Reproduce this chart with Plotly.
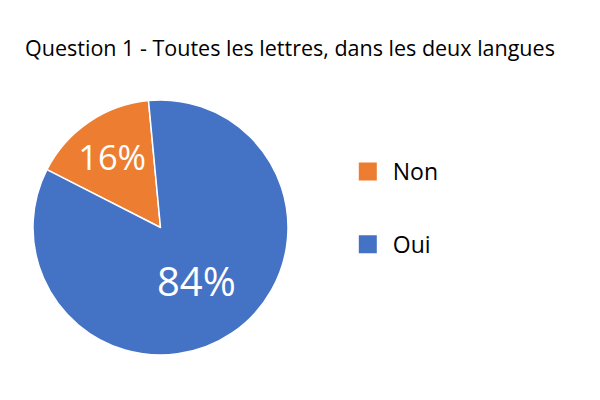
import plotly.graph_objects as go

labels = ["Non", "Oui"]
values = [16, 84]
colors = ["#ED7D31", "#4472C4"]

title_text = "Question 1 - Toutes les lettres, dans les deux langues"
font_family = "Open Sans"

fig = go.Figure()

# the pie itself, legend drawn separately so the entries can be spaced out
fig.add_trace(
    go.Pie(
        labels=labels,
        values=values,
        sort=False,
        direction="clockwise",
        rotation=-63,
        marker=dict(colors=colors, line=dict(color="white", width=1.5)),
        texttemplate="%{percent:.0%}",
        textposition="inside",
        insidetextorientation="horizontal",
        textfont=dict(color="white", size=40, family=font_family),
        domain=dict(x=[25 / 600, 280 / 600], y=[53 / 400, 308 / 400]),
        showlegend=False,
        hoverinfo="label+percent",
    )
)

# legend entries
for name, col in zip(labels, colors):
    fig.add_trace(
        go.Scatter(
            x=[None],
            y=[None],
            mode="markers",
            name=name,
            legendgroup=name,
            marker=dict(symbol="square", size=18, color=col,
                        line=dict(color=col, width=2)),
        )
    )

fig.update_layout(
    width=600,
    height=400,
    margin=dict(l=0, r=0, t=0, b=0),
    paper_bgcolor="white",
    plot_bgcolor="white",
    font=dict(family=font_family, color="#000000"),
    title=dict(
        text=title_text,
        x=0.47,
        xanchor="center",
        y=1 - 40 / 400,
        yanchor="middle",
        font=dict(size=21.5, family=font_family, color="#000000"),
    ),
    xaxis=dict(visible=False),
    yaxis=dict(visible=False),
    legend=dict(
        x=0.558,
        y=0.5,
        xanchor="left",
        yanchor="middle",
        font=dict(size=23, family=font_family, color="#000000"),
        tracegroupgap=40,
        itemwidth=40,
        bgcolor="rgba(0,0,0,0)",
    ),
)

fig.write_html("out.html")
